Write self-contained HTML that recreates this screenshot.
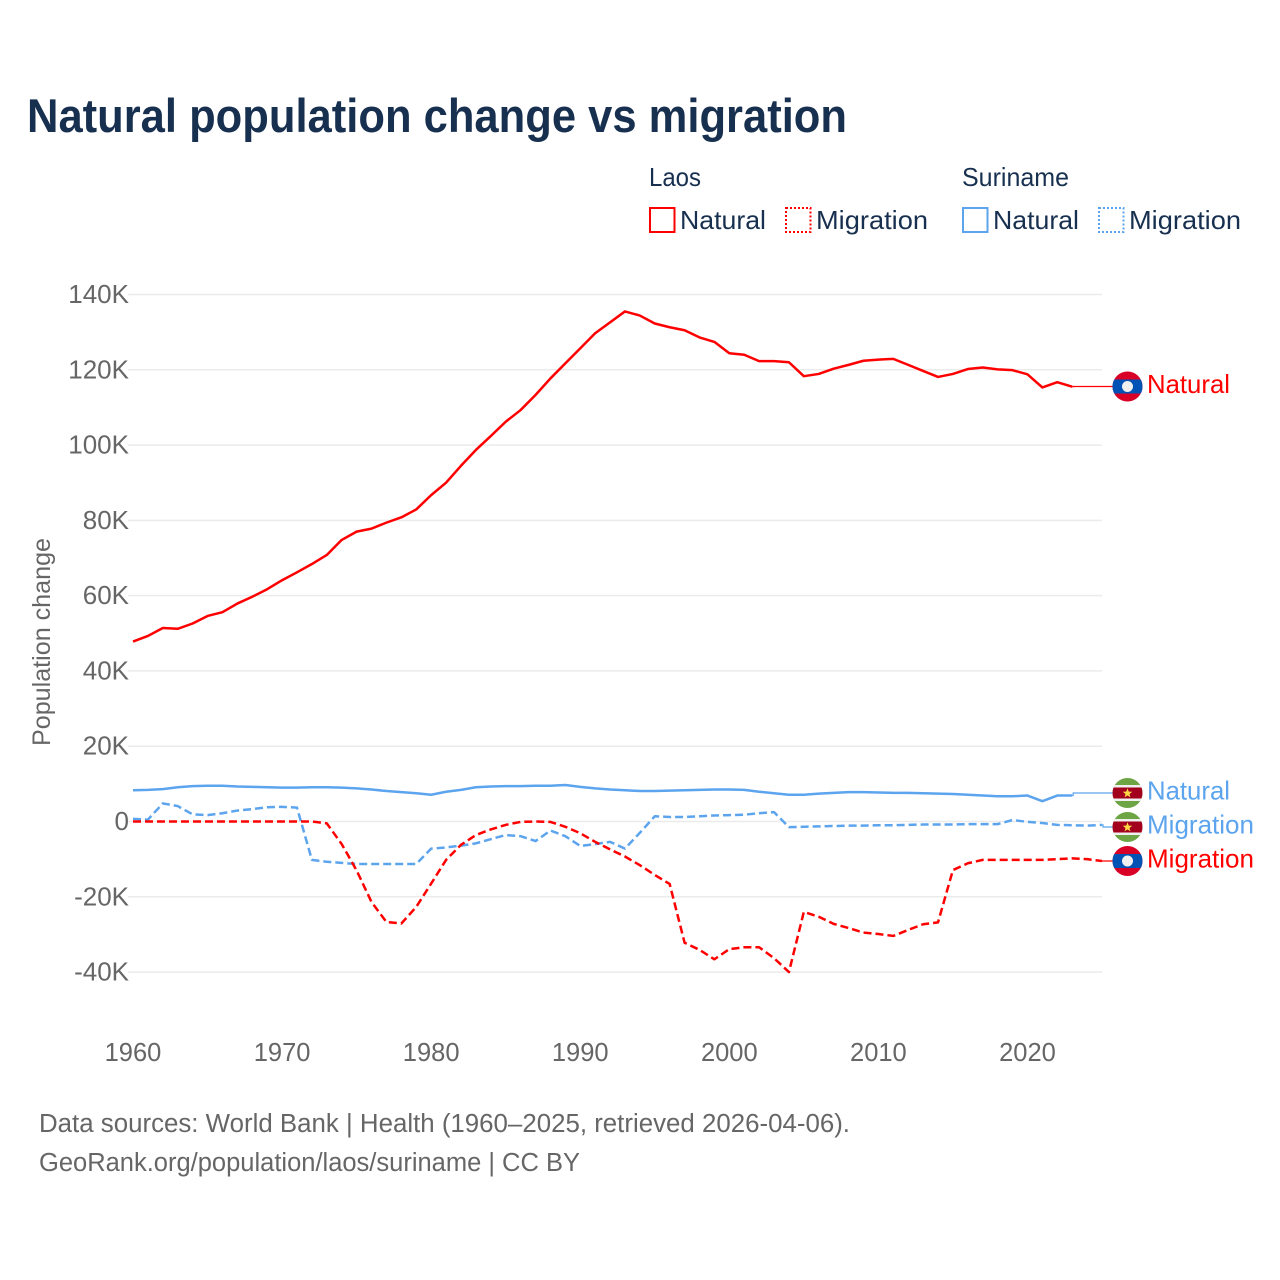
<!DOCTYPE html>
<html lang="en">
<head>
<meta charset="utf-8">
<title>Natural population change vs migration</title>
<style>
  html, body { margin: 0; padding: 0; background: #fff; }
  svg { display: block; font-family: "Liberation Sans", sans-serif; }
</style>
</head>
<body>
<svg id="chart" width="1280" height="1280" viewBox="0 0 1280 1280" xmlns="http://www.w3.org/2000/svg">
  <rect width="1280" height="1280" fill="#ffffff"/>
  <text x="27" y="132" font-size="47" font-weight="700" fill="#18304f" textLength="820" lengthAdjust="spacingAndGlyphs">Natural population change vs migration</text>

  <g font-size="26" fill="#18304f">
    <text x="649" y="186" textLength="52" lengthAdjust="spacingAndGlyphs">Laos</text>
    <text x="962" y="186" textLength="107" lengthAdjust="spacingAndGlyphs">Suriname</text>
    <g>
      <rect x="650" y="208" width="24.5" height="24" fill="none" stroke="#ff0000" stroke-width="2"/>
      <text x="680" y="229" textLength="86" lengthAdjust="spacingAndGlyphs">Natural</text>
    </g>
    <g>
      <rect x="786" y="208" width="24.5" height="24" fill="none" stroke="#ff0000" stroke-width="2" stroke-dasharray="2 2"/>
      <text x="816" y="229" textLength="112" lengthAdjust="spacingAndGlyphs">Migration</text>
    </g>
    <g>
      <rect x="963" y="208" width="24.5" height="24" fill="none" stroke="#5ca4ee" stroke-width="2"/>
      <text x="993" y="229" textLength="86" lengthAdjust="spacingAndGlyphs">Natural</text>
    </g>
    <g>
      <rect x="1099" y="208" width="24.5" height="24" fill="none" stroke="#5ca4ee" stroke-width="2" stroke-dasharray="2 2"/>
      <text x="1129" y="229" textLength="112" lengthAdjust="spacingAndGlyphs">Migration</text>
    </g>
  </g>

  <g id="grid"></g>
  <g id="yticks" font-size="26" fill="#666666" text-anchor="end"></g>
  <g id="xticks" font-size="25.5" fill="#666666" text-anchor="middle"></g>
  <text transform="translate(50 642) rotate(-90)" font-size="25" fill="#666666" text-anchor="middle" textLength="208" lengthAdjust="spacingAndGlyphs">Population change</text>
  <g id="series"></g>
  <g id="ends"></g>

  <g font-size="25.5" fill="#666666">
    <text x="39" y="1132" textLength="811" lengthAdjust="spacingAndGlyphs">Data sources: World Bank | Health (1960–2025, retrieved 2026-04-06).</text>
    <text x="39" y="1171" textLength="541" lengthAdjust="spacingAndGlyphs">GeoRank.org/population/laos/suriname | CC BY</text>
  </g>
</svg>

<script>
const startYear = 1960;
const xTickYears = [1960, 1970, 1980, 1990, 2000, 2010, 2020];
const yTickValues = [-40, -20, 0, 20, 40, 60, 80, 100, 120, 140];
const yTickLabels = ["-40K", "-20K", "0", "20K", "40K", "60K", "80K", "100K", "120K", "140K"];

const laosNatural = [47.8, 49.3, 51.4, 51.2, 52.6, 54.6, 55.6, 57.9, 59.7, 61.7, 64.1, 66.2, 68.4, 70.8, 74.8, 77.0, 77.8, 79.4, 80.8, 82.9, 86.7, 90.0, 94.5, 98.7, 102.4, 106.2, 109.3, 113.3, 117.7, 121.7, 125.7, 129.7, 132.6, 135.5, 134.4, 132.3, 131.3, 130.5, 128.6, 127.4, 124.4, 124.0, 122.3, 122.3, 122.0, 118.3, 118.9, 120.3, 121.3, 122.4, 122.7, 122.9, 121.3, 119.7, 118.1, 118.9, 120.2, 120.6, 120.1, 119.9, 118.8, 115.3, 116.7, 115.5];
const laosMigration = [0, 0, 0, 0, 0, 0, 0, 0, 0, 0, 0, 0, 0, -0.5, -6.0, -13.0, -21.4, -26.7, -27.1, -22.7, -16.5, -10.2, -6.2, -3.6, -2.1, -0.9, -0.1, 0.0, -0.1, -1.4, -3.1, -5.4, -7.4, -9.3, -11.6, -14.2, -16.6, -32.2, -34.1, -36.6, -33.9, -33.4, -33.4, -36.3, -40.0, -24.0, -25.3, -27.2, -28.3, -29.5, -29.9, -30.4, -28.8, -27.3, -26.8, -12.9, -11.1, -10.2, -10.2, -10.2, -10.2, -10.2, -10.0, -9.8, -10.0, -10.5];
const surinameNatural = [8.3, 8.4, 8.6, 9.1, 9.4, 9.5, 9.5, 9.3, 9.2, 9.1, 9.0, 9.0, 9.1, 9.1, 9.0, 8.8, 8.5, 8.1, 7.8, 7.5, 7.1, 7.9, 8.4, 9.1, 9.3, 9.4, 9.4, 9.5, 9.5, 9.7, 9.2, 8.8, 8.5, 8.3, 8.1, 8.1, 8.2, 8.3, 8.4, 8.5, 8.5, 8.4, 7.9, 7.5, 7.1, 7.1, 7.4, 7.6, 7.8, 7.8, 7.7, 7.6, 7.6, 7.5, 7.4, 7.3, 7.1, 6.9, 6.7, 6.7, 6.9, 5.4, 6.9, 6.9];
const surinameMigration = [0.7, 0.5, 4.8, 4.1, 1.9, 1.7, 2.2, 2.9, 3.3, 3.8, 3.9, 3.7, -10.2, -10.7, -11.0, -11.3, -11.3, -11.3, -11.3, -11.3, -7.2, -6.9, -6.4, -5.8, -4.7, -3.6, -3.9, -5.2, -2.4, -3.9, -6.5, -6.0, -5.4, -7.2, -3.0, 1.4, 1.2, 1.2, 1.4, 1.6, 1.7, 1.8, 2.2, 2.5, -1.5, -1.4, -1.3, -1.2, -1.1, -1.1, -1.0, -1.0, -0.9, -0.8, -0.8, -0.8, -0.7, -0.7, -0.7, 0.4, -0.1, -0.4, -0.9, -1.0, -1.1, -0.9];

const NS = 'http://www.w3.org/2000/svg';
function xScale(year) { return 133 + (year - 1960) * (1102 - 133) / 65; }
function yScale(value) { return 821.5 - value * 527 / 140; }

function make(tag, attrs, parent) {
  const el = document.createElementNS(NS, tag);
  for (const k in attrs) el.setAttribute(k, attrs[k]);
  parent.appendChild(el);
  return el;
}

const gridG = document.getElementById('grid');
const yTickG = document.getElementById('yticks');
const xTickG = document.getElementById('xticks');
const seriesG = document.getElementById('series');
const endsG = document.getElementById('ends');

yTickValues.forEach((v, i) => {
  const line = make('line', { x1: 128, x2: 1102, y1: yScale(v), y2: yScale(v), stroke: '#ebebeb', 'stroke-width': 1.5 }, gridG);
  
  
  const t = make('text', { x: 129, y: yScale(v) + 8.5 }, yTickG);
  
  
  t.textContent = yTickLabels[i];
});

xTickYears.forEach(year => {
  const t = make('text', { x: xScale(year), y: 1061 }, xTickG);
  
  
  t.textContent = String(year);
});

function linePath(values) {
  return values.map((v, i) => (i ? 'L' : 'M') + xScale(startYear + i).toFixed(2) + ' ' + yScale(v).toFixed(2)).join(' ');
}

const lineBlue = '#5ca4ee';
const lineRed = '#ff0000';

const p1 = make('path', { d: linePath(surinameMigration), fill: 'none', stroke: lineBlue, 'stroke-width': 2.5, 'stroke-dasharray': '8 4', 'stroke-linejoin': 'round' }, seriesG);


const p2 = make('path', { d: linePath(surinameNatural), fill: 'none', stroke: lineBlue, 'stroke-width': 2.5, 'stroke-linejoin': 'round' }, seriesG);


const p3 = make('path', { d: linePath(laosMigration), fill: 'none', stroke: lineRed, 'stroke-width': 2.5, 'stroke-dasharray': '8 4', 'stroke-linejoin': 'round' }, seriesG);


const p4 = make('path', { d: linePath(laosNatural), fill: 'none', stroke: lineRed, 'stroke-width': 2.5, 'stroke-linejoin': 'round' }, seriesG);



const FLAG_X = 1127.5;
const FLAG_R = 15;

function connector(values, flagY, color) {
  const last = values.length - 1;
  const x0 = xScale(startYear + last);
  const y0 = yScale(values[last]);
  const d = 'M' + x0 + ' ' + y0 + ' L' + (x0 + 1) + ' ' + y0 + ' L' + (x0 + 1) + ' ' + flagY + ' L' + (FLAG_X - FLAG_R) + ' ' + flagY;
  return make('path', { d: d, fill: 'none', stroke: color, 'stroke-width': 1.2 }, endsG);
}

function clipFor(id, cy) {
  const defs = make('defs', {}, endsG);
  const clip = make('clipPath', { id: id }, defs);
  make('circle', { cx: FLAG_X, cy: cy, r: FLAG_R }, clip);
}

function drawLaosFlag(group, id, cy) {
  clipFor(id, cy);
  const inner = make('g', { 'clip-path': 'url(#' + id + ')' }, group);
  make('rect', { x: FLAG_X - FLAG_R, y: cy - FLAG_R, width: 2 * FLAG_R, height: 2 * FLAG_R, fill: '#d80027' }, inner);
  make('rect', { x: FLAG_X - FLAG_R, y: cy - 7, width: 2 * FLAG_R, height: 14, fill: '#0052b4' }, inner);
  make('circle', { cx: FLAG_X, cy: cy, r: 5.5, fill: '#f0f0f0' }, inner);
}

function drawSurinameFlag(group, id, cy) {
  clipFor(id, cy);
  const inner = make('g', { 'clip-path': 'url(#' + id + ')' }, group);
  make('rect', { x: FLAG_X - FLAG_R, y: cy - FLAG_R, width: 2 * FLAG_R, height: 2 * FLAG_R, fill: '#6da544' }, inner);
  make('rect', { x: FLAG_X - FLAG_R, y: cy - 8, width: 2 * FLAG_R, height: 16, fill: '#f0f0f0' }, inner);
  make('rect', { x: FLAG_X - FLAG_R, y: cy - 5.5, width: 2 * FLAG_R, height: 11, fill: '#a2001d' }, inner);
  const pts = [];
  for (let k = 0; k < 10; k++) {
    const a = -Math.PI / 2 + k * Math.PI / 5;
    const r = k % 2 ? 2.1 : 5;
    pts.push((FLAG_X + r * Math.cos(a)).toFixed(2) + ',' + (cy + 0.3 + r * Math.sin(a)).toFixed(2));
  }
  make('polygon', { points: pts.join(' '), fill: '#ffda44' }, inner);
}

function endLabel(text, cy, color) {
  const t = make('text', { x: 1147, y: cy + 6.5, 'font-size': 26, fill: color, textLength: text === 'Natural' ? 83 : 107, lengthAdjust: 'spacingAndGlyphs' }, endsG);
  t.textContent = text;
  return t;
}

/* Laos natural ends at 2023; leader runs flat to the flag */
const c1 = connector(laosNatural, 386.5, lineRed);


const f1 = make('g', {}, endsG);


drawLaosFlag(f1, 'clip-a', 386.5);
const l1 = endLabel('Natural', 386.5, lineRed);



const c2 = connector(surinameNatural, 793, lineBlue);


const f2 = make('g', {}, endsG);


drawSurinameFlag(f2, 'clip-b', 793);
const l2 = endLabel('Natural', 793, lineBlue);



const c3 = connector(surinameMigration, 827, lineBlue);


const f3 = make('g', {}, endsG);


drawSurinameFlag(f3, 'clip-c', 827);
const l3 = endLabel('Migration', 827, lineBlue);



const c4 = connector(laosMigration, 861, lineRed);


const f4 = make('g', {}, endsG);


drawLaosFlag(f4, 'clip-d', 861);
const l4 = endLabel('Migration', 861, lineRed);


</script>
</body>
</html>
